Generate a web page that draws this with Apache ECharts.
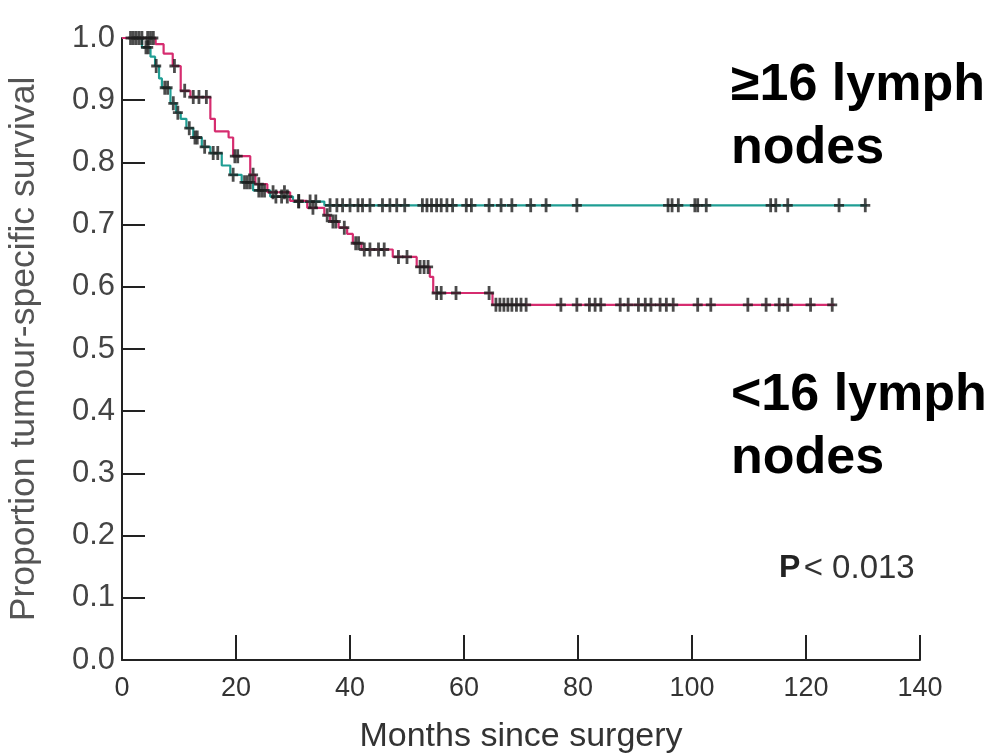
<!DOCTYPE html>
<html>
<head>
<meta charset="utf-8">
<script src="https://cdn.jsdelivr.net/npm/echarts@6/dist/echarts.min.js"></script>
<style>
    html, body { margin: 0; padding: 0; background: #fff; }
    #main { width: 997px; height: 755px; }
</style>
</head>
<body>
<div id="main"></div>
<script>
    // >=16 lymph nodes (teal curve)
    var hiTimes = [0, 3.5, 5, 5.8, 6.5, 7.0, 8.5, 9.5, 10.3, 11.3, 12.5, 14, 15.5, 17.5, 19, 21, 23, 26, 30, 35.5, 130.7];
    var hiSurv = [1.0, 0.985, 0.97, 0.955, 0.935, 0.92, 0.895, 0.88, 0.87, 0.855, 0.84, 0.825, 0.815, 0.795, 0.78, 0.768, 0.755, 0.745, 0.737, 0.731, 0.731];
    var hiCensor = [1.5, 2.5, 3, 4.2, 4.6, 6, 7.5, 8, 9, 9.8, 11.8, 12.8, 13.2, 14.5, 16, 16.8, 19.5, 21.5, 22, 22.5,
        24, 24.5, 25, 27, 28, 29, 31, 33, 34, 36.5, 37.7, 38.7, 40, 41.4, 42.2, 43.5, 45.7, 47, 48.2, 49.6,
        52.7, 53.5, 54.3, 55.2, 56, 57, 58, 60.4, 61.3, 64.4, 66.5, 68.4, 71.7, 74.4, 79.8,
        95.8, 96.5, 97.6, 100.5, 101, 102.5, 113.8, 114.7, 116.8, 125.8, 130.4];

    // <16 lymph nodes (magenta curve)
    var loTimes = [0, 5.9, 7.3, 8.9, 10.3, 12, 15.5, 16.3, 18.7, 19.5, 22.5, 23.4, 25.5, 29.5, 32.5, 35.5, 36.5, 38, 39.5, 40.5, 42, 47.5, 51.7, 54, 54.6, 65, 125];
    var loSurv = [1.0, 0.99, 0.975, 0.955, 0.915, 0.905, 0.87, 0.85, 0.84, 0.81, 0.78, 0.765, 0.752, 0.738, 0.727, 0.715, 0.705, 0.695, 0.685, 0.67, 0.66, 0.648, 0.632, 0.616, 0.59, 0.571, 0.571];
    var loCensor = [2, 3.5, 4.5, 5, 5.5, 9.2, 11, 12.5, 13.5, 14.8, 19.8, 20.3, 23, 24, 26.5, 28.5, 31, 33.5,
        36, 37, 37.5, 39, 41, 41.5, 42.5, 43.5, 45, 46, 48.5, 50, 52.3, 53, 53.7, 55.2, 56, 58.6, 64.4,
        65.6, 66.3, 67, 67.7, 68.4, 69.2, 70, 70.9, 77, 79.8, 82, 83, 84, 87.4, 88.8, 90.6, 91.8, 92.8,
        94.4, 95.5, 96.7, 101, 103.3, 109.8, 113, 115.3, 116.8, 120.8, 124.6];

    var xTicks = [0, 20, 40, 60, 80, 100, 120, 140];
    var yTicks = [0, 0.1, 0.2, 0.3, 0.4, 0.5, 0.6, 0.7, 0.8, 0.9, 1.0];

    function pairs(ts, ss) {
        return ts.map(function (t, i) { return [t, ss[i]]; });
    }
    // survival value of a step curve at time t (for placing censor marks)
    function survAt(ts, ss, t) {
        var v = ss[0];
        for (var i = 0; i < ts.length; i++) {
            if (ts[i] <= t) v = ss[i];
        }
        return v;
    }
    function censorPts(cs, ts, ss) {
        return cs.map(function (t) { return [t, survAt(ts, ss, t)]; });
    }

    var plus = 'path://M3.6,0h2.8v14h-2.8z M0,5.6h10v2.8h-10z';
    var teal = '#1f9e94';
    var magenta = '#d62c6f';
    var font = '"Liberation Sans", Arial, sans-serif';

    var chart = echarts.init(document.getElementById('main'));
    chart.setOption({
        animation: false,
        grid: { left: 122, right: 77, top: 38, bottom: 95, outerBoundsMode: 'none' },
        xAxis: {
            type: 'value', min: 0, max: 140, interval: 20,
            name: 'Months since surgery', nameLocation: 'middle', nameGap: 60,
            nameTextStyle: { fontFamily: font, fontSize: 34, color: '#333' },
            axisLine: { lineStyle: { color: '#222', width: 2 } },
            axisTick: { inside: true, length: 25, lineStyle: { color: '#222', width: 2 } },
            axisLabel: {
                fontFamily: font, fontSize: 27, color: '#333', margin: 15,
                formatter: function (v) { return xTicks.indexOf(v) >= 0 ? String(v) : ''; }
            },
            splitLine: { show: false }
        },
        yAxis: {
            type: 'value', min: 0, max: 1, interval: 0.1,
            name: 'Proportion tumour-specific survival', nameLocation: 'middle', nameGap: 80,
            nameTextStyle: { fontFamily: font, fontSize: 35.5, color: '#555' },
            axisLine: { lineStyle: { color: '#222', width: 2 } },
            axisTick: { inside: true, length: 23, lineStyle: { color: '#222', width: 2 } },
            axisLabel: {
                fontFamily: font, fontSize: 31, color: '#444', margin: 7,
                formatter: function (v) { return yTicks.indexOf(Math.round(v * 10) / 10) >= 0 ? v.toFixed(1) : ''; }
            },
            splitLine: { show: false }
        },
        series: [
            {
                type: 'line', step: 'end', data: pairs(hiTimes, hiSurv), showSymbol: false,
                lineStyle: { color: teal, width: 2.2 }, z: 2
            },
            {
                type: 'line', step: 'end', data: pairs(loTimes, loSurv), showSymbol: false,
                lineStyle: { color: magenta, width: 2.2 }, z: 2
            },
            {
                type: 'scatter', data: censorPts(hiCensor, hiTimes, hiSurv), symbol: plus,
                symbolSize: [10, 14], itemStyle: { color: '#1e1e1e' }, z: 3
            },
            {
                type: 'scatter', data: censorPts(loCensor, loTimes, loSurv), symbol: plus,
                symbolSize: [10, 14], itemStyle: { color: '#1e1e1e' }, z: 3
            }
        ],
        graphic: [
            {
                type: 'text', left: 731, top: 54,
                style: {
                    text: '≥16 lymph\nnodes', font: 'bold 52px "Liberation Sans"', fill: '#000', lineHeight: 63
                }
            },
            {
                type: 'text', left: 731, top: 364,
                style: {
                    text: '<16 lymph\nnodes', font: 'bold 52px "Liberation Sans"', fill: '#000', lineHeight: 63
                }
            },
            {
                type: 'text', left: 779, top: 552,
                style: {
                    text: '{b|P} {r|< 0.013}',
                    rich: {
                        b: { fontFamily: font, fontWeight: 'bold', fontSize: 32, fill: '#222' },
                        r: { fontFamily: font, fontSize: 33, fill: '#333' }
                    }
                }
            }
        ]
    });
</script>
</body>
</html>
